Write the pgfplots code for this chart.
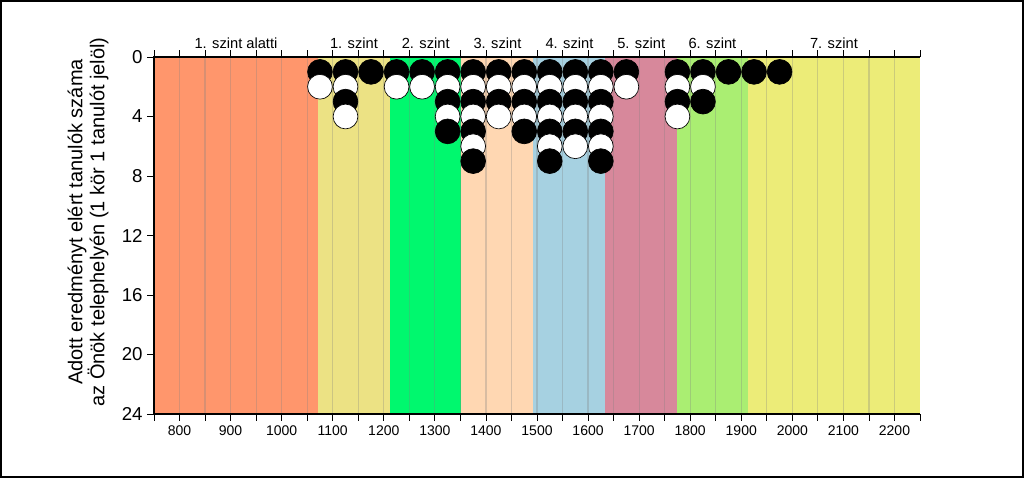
\documentclass[border=0pt]{standalone}
\usepackage{fontspec}
\setmainfont{Liberation Sans}
\usepackage{pgfplots}
\pgfplotsset{compat=1.18}

\definecolor{lvl0}{RGB}{255,150,108}
\definecolor{lvl1}{RGB}{236,226,132}
\definecolor{lvl2}{RGB}{0,248,110}
\definecolor{lvl3}{RGB}{255,215,178}
\definecolor{lvl4}{RGB}{166,209,225}
\definecolor{lvl5}{RGB}{215,136,155}
\definecolor{lvl6}{RGB}{170,238,114}
\definecolor{lvl7}{RGB}{236,236,120}

\pgfplotsset{
    band/.style={draw=none, fill=#1, forget plot},
    dotblack/.style={only marks, mark=*, mark size=9.3pt, mark options={fill=black, draw=black, line width=0.5pt}},
    dotwhite/.style={only marks, mark=*, mark size=9.3pt, mark options={fill=white, draw=black, line width=0.5pt}},
}

\begin{document}
\begin{tikzpicture}
\begin{axis}[
    scale only axis,
    width=574.5pt, height=267.75pt,
    xmin=750, xmax=2250, ymin=0, ymax=24,
    y dir=reverse,
    axis line style={draw=none},
    xtick={800,900,...,2200},
    minor xtick={850,950,...,2150},
    extra x ticks={750,2250},
    extra x tick labels={},
    ytick={0,4,...,24},
    xtick pos=both, ytick pos=left,
    tick align=outside,
    major tick length=5pt, minor tick length=5pt,
    tick style={black, line width=0.6pt},
    /pgf/number format/assume math mode=true,
    /pgf/number format/1000 sep={},
    xticklabel style={font=\fontsize{10.5}{12}\selectfont},
    yticklabel style={font=\fontsize{14}{16}\selectfont},
    clip=false,
]
% level bands
\addplot[band=lvl0] coordinates {(750,24) (1071,24)} \closedcycle;
\addplot[band=lvl1] coordinates {(1071,24) (1212,24)} \closedcycle;
\addplot[band=lvl2] coordinates {(1212,24) (1352,24)} \closedcycle;
\addplot[band=lvl3] coordinates {(1352,24) (1493,24)} \closedcycle;
\addplot[band=lvl4] coordinates {(1493,24) (1634,24)} \closedcycle;
\addplot[band=lvl5] coordinates {(1634,24) (1774,24)} \closedcycle;
\addplot[band=lvl6] coordinates {(1774,24) (1913,24)} \closedcycle;
\addplot[band=lvl7] coordinates {(1913,24) (2250,24)} \closedcycle;

% grid lines
\addplot[ycomb, no marks, gray, opacity=0.3, line width=0.9pt] coordinates {
    (800,24) (850,24) (900,24) (950,24) (1000,24) (1050,24) (1100,24) (1150,24)
    (1200,24) (1250,24) (1300,24) (1350,24) (1400,24) (1450,24) (1500,24) (1550,24)
    (1600,24) (1650,24) (1700,24) (1750,24) (1800,24) (1850,24) (1900,24) (1950,24)
    (2000,24) (2050,24) (2100,24) (2150,24) (2200,24)
};

% students, one row at a time
\addplot[dotblack] coordinates {(1075,1) (1125,1) (1175,1) (1225,1) (1275,1) (1325,1) (1375,1) (1425,1) (1475,1) (1525,1) (1575,1) (1625,1) (1675,1) (1775,1) (1825,1) (1875,1) (1925,1) (1975,1)};
\addplot[dotwhite] coordinates {(1075,2) (1125,2) (1225,2) (1275,2) (1325,2) (1375,2) (1425,2) (1475,2) (1525,2) (1575,2) (1625,2) (1675,2) (1775,2) (1825,2)};
\addplot[dotblack] coordinates {(1125,3) (1325,3) (1375,3) (1425,3) (1475,3) (1525,3) (1575,3) (1625,3) (1775,3) (1825,3)};
\addplot[dotwhite] coordinates {(1125,4) (1325,4) (1375,4) (1425,4) (1475,4) (1525,4) (1575,4) (1625,4) (1775,4)};
\addplot[dotblack] coordinates {(1325,5) (1375,5) (1475,5) (1525,5) (1575,5) (1625,5)};
\addplot[dotwhite] coordinates {(1375,6) (1525,6) (1575,6) (1625,6)};
\addplot[dotblack] coordinates {(1375,7) (1525,7) (1625,7)};

% axis lines (no right one)
\draw[black, line width=0.8pt] (rel axis cs:1,0) -- (rel axis cs:0,0) -- (rel axis cs:0,1) -- (rel axis cs:1,1);

% level names
\begin{scope}[every node/.style={anchor=base, yshift=6.5pt, font=\fontsize{11}{13}\selectfont}]
\node at (axis cs:910.5,0) {1. szint alatti};
\node at (axis cs:1141.5,0) {1. szint};
\node at (axis cs:1282,0) {2. szint};
\node at (axis cs:1422.5,0) {3. szint};
\node at (axis cs:1563.5,0) {4. szint};
\node at (axis cs:1704,0) {5. szint};
\node at (axis cs:1843.5,0) {6. szint};
\node at (axis cs:2081.5,0) {7. szint};
\end{scope}
\end{axis}

\node[rotate=90, align=center, font=\fontsize{15}{16.5}\selectfont] at (-49.5pt,144pt)
    {Adott eredményt elért tanulók száma\\az Önök telephelyén (1 kör 1 tanulót jelöl)};

\draw[black, line width=1.5pt] (-114.75pt,-47.25pt) rectangle (651.75pt,309.75pt);
\end{tikzpicture}
\end{document}
